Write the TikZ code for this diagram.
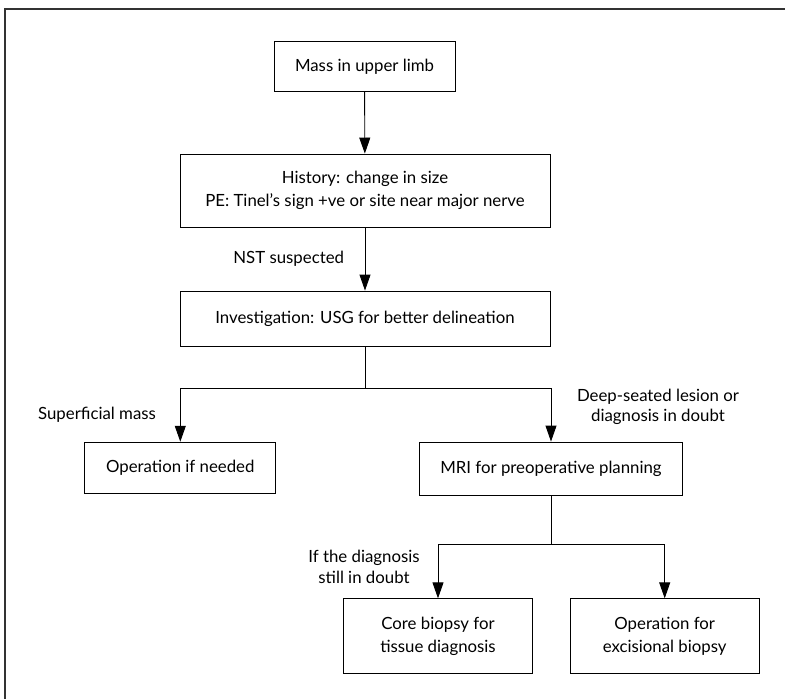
\documentclass[tikz,border=0pt]{standalone}
\usepackage{fontspec}
\setmainfont{Lato}
\usetikzlibrary{arrows.meta}

\tikzset{
  stepbox/.style={draw, line width=0.9pt, align=center, inner sep=0pt,
    font=\fontsize{16.8}{22.5}\selectfont},
  flow/.style={line width=0.9pt, -{Triangle[length=16pt,width=11pt]}},
  plain/.style={line width=0.9pt},
  cue/.style={align=center, font=\fontsize{16.8}{20.5}\selectfont}
}

\begin{document}
\begin{tikzpicture}[x=1pt,y=-1pt]
    \useasboundingbox (0,0) rectangle (785,699);
    \clip (0,0) rectangle (785,699);
    % outer frame, cut by the page edge
    \draw[line width=1.1pt, black!80] (5,9) rectangle (820,740);

    \node[stepbox, minimum width=181pt, minimum height=50pt] (mass) at (364.5,66.7) {Mass in upper limb};
    \node[stepbox, minimum width=370pt, minimum height=73pt] (history) at (365,190.5)
      {History: change in size\\PE: Tinel’s sign +ve or site near major nerve};
    \node[stepbox, minimum width=370pt, minimum height=55pt] (invest) at (365,318.5)
      {Investigation: USG for better delineation};
    \node[stepbox, minimum width=191pt, minimum height=51pt] (opneed) at (180.3,467.7) {Operation if needed};
    \node[stepbox, minimum width=263pt, minimum height=53pt] (mri) at (551,468.5)
      {MRI for preoperative planning};
    \node[stepbox, minimum width=189pt, minimum height=75pt] (core) at (438,636.3)
      {Core biopsy for\\tissue diagnosis};
    \node[stepbox, minimum width=189pt, minimum height=75pt] (opexc) at (664.7,636.3)
      {Operation for\\excisional biopsy};

    % branch points
    \coordinate (split1) at (365,388);
    \coordinate (split2) at (551,544);

    \draw[flow] (mass) -- (history);
    \draw[flow] (history) -- (invest);
    \draw[plain] (invest) -- (split1);
    \draw[flow] (split1) -| (opneed);
    \draw[flow] (split1) -| (mri);
    \draw[plain] (mri) -- (split2);
    \draw[flow] (split2) -| (core);
    \draw[flow] (split2) -| (opexc);

    % branch labels
    \node[cue] (nst) at (288.7,259) {NST suspected};
    \node[cue] (superficial) at (97,415) {Superficial mass};
    \node[cue] (deep) at (658,407) {Deep-seated lesion or\\diagnosis in doubt};
    \node[cue] (doubt) at (364,567) {If the diagnosis\\still in doubt};
\end{tikzpicture}
\end{document}
